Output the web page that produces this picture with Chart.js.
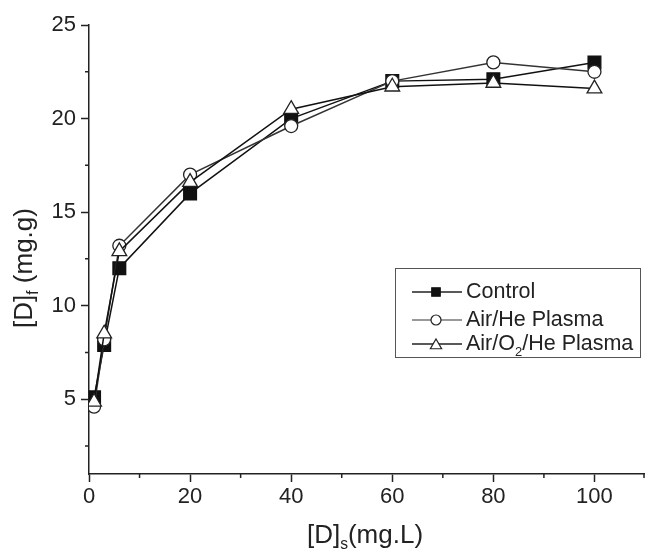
<!DOCTYPE html>
<html>
<head>
<meta charset="utf-8">
<script src="https://cdn.jsdelivr.net/npm/chart.js@4.4.1/dist/chart.umd.min.js"></script>
<style>
  html, body { margin: 0; padding: 0; background: #fff; }
  #wrap { width: 645px; height: 554px; }
</style>
</head>
<body>
<div id="wrap"><canvas id="chart" width="645" height="554"></canvas></div>
<script>
// concentrations in solution, [D]s (mg.L)
const dsValues = [1, 3, 6, 20, 40, 60, 80, 100];
// dye on fabric, [D]f (mg.g)
const control = [5.1, 7.9, 12.0, 16.0, 20.0, 22.0, 22.1, 23.0];
const airHe = [4.6, 8.2, 13.2, 17.0, 19.6, 22.0, 23.0, 22.5];
const airO2He = [4.85, 8.5, 12.9, 16.6, 20.5, 21.7, 21.9, 21.6];

const xTicks = [0, 20, 40, 60, 80, 100];
const yTicks = [5, 10, 15, 20, 25];
const xMinor = [10, 30, 50, 70, 90, 110];
const yMinor = [2.5, 7.5, 12.5, 17.5, 22.5];

const FONT = 'Liberation Sans, Arial, sans-serif';
const INK = '#222';

function pts(ys) {
  return dsValues.map((x, i) => ({ x: x, y: ys[i] }));
}

// minor ticks, axis titles with subscripts, boxed legend
const decor = {
  id: 'decor',
  afterDraw(chart) {
    const ctx = chart.ctx;
    const xs = chart.scales.x, ys = chart.scales.y;
    const area = chart.chartArea;
    ctx.save();
    ctx.strokeStyle = INK;
    ctx.lineWidth = 1.5;
    ctx.beginPath();
    xMinor.forEach(v => {
      const px = Math.min(xs.getPixelForValue(v), area.right - 1);
      ctx.moveTo(px, area.bottom);
      ctx.lineTo(px, area.bottom + 4);
    });
    yMinor.forEach(v => {
      const py = ys.getPixelForValue(v);
      ctx.moveTo(area.left, py);
      ctx.lineTo(area.left - 4, py);
    });
    ctx.stroke();

    // text with a subscript part, centred on x
    function subText(parts, x, y, size) {
      let w = 0;
      parts.forEach(p => {
        ctx.font = (p.sub ? size * 0.6 : size) + 'px ' + FONT;
        w += ctx.measureText(p.t).width;
      });
      let cx = x - w / 2;
      parts.forEach(p => {
        ctx.font = (p.sub ? size * 0.6 : size) + 'px ' + FONT;
        ctx.fillText(p.t, cx, p.sub ? y + size * 0.32 : y);
        cx += ctx.measureText(p.t).width;
      });
    }
    ctx.fillStyle = INK;
    ctx.textBaseline = 'middle';
    ctx.textAlign = 'left';
    subText([{ t: '[D]' }, { t: 's', sub: true }, { t: '(mg.L)' }], 365, 536, 26);
    ctx.save();
    ctx.translate(25, 268);
    ctx.rotate(-Math.PI / 2);
    subText([{ t: '[D]' }, { t: 'f', sub: true }, { t: ' (mg.g)' }], 0, 0, 26);
    ctx.restore();

    // legend box
    ctx.lineWidth = 1;
    ctx.strokeStyle = '#555';
    ctx.strokeRect(395.5, 268.5, 245, 89);
    const rows = [292, 320, 344];
    chart.data.datasets.forEach((ds, i) => {
      const y = rows[i];
      ctx.strokeStyle = i === 1 ? '#777' : '#222';
      ctx.lineWidth = 1.5;
      ctx.beginPath();
      ctx.moveTo(412, y);
      ctx.lineTo(462, y);
      ctx.stroke();
      ctx.fillStyle = ds.pointBackgroundColor;
      ctx.strokeStyle = ds.pointBorderColor;
      ctx.lineWidth = 1.2;
      Chart.helpers.drawPoint(ctx, {
        pointStyle: ds.pointStyle,
        radius: ds.pointStyle === 'rect' ? 6 : ds.pointStyle === 'circle' ? 5 : 6.5,
        borderWidth: 1.2
      }, 436, y + (ds.pointStyle === 'triangle' ? 1.5 : 0));
      ctx.fillStyle = INK;
      ctx.textBaseline = 'middle';
      ctx.font = '21.5px ' + FONT;
      if (i === 2) {
        let cx = 466;
        ctx.fillText('Air/O', cx, y);
        cx += ctx.measureText('Air/O').width;
        ctx.font = '13px ' + FONT;
        ctx.fillText('2', cx, y + 8);
        cx += ctx.measureText('2').width;
        ctx.font = '21.5px ' + FONT;
        ctx.fillText('/He Plasma', cx, y);
      } else {
        ctx.fillText(ds.label, 466, y);
      }
    });
    ctx.restore();
  }
};

const common = {
  showLine: true,
  borderWidth: 1.5,
  pointBorderWidth: 1.3,
  pointHoverRadius: 0
};

new Chart(document.getElementById('chart').getContext('2d'), {
  type: 'scatter',
  data: {
    datasets: [
      Object.assign({}, common, {
        label: 'Control',
        data: pts(control),
        borderColor: '#111',
        pointStyle: 'rect',
        pointRadius: 9,
        pointBackgroundColor: '#111',
        pointBorderColor: '#111',
        order: 3
      }),
      Object.assign({}, common, {
        label: 'Air/He Plasma',
        data: pts(airHe),
        borderColor: '#333',
        pointStyle: 'circle',
        pointRadius: 6.5,
        pointBackgroundColor: '#fff',
        pointBorderColor: '#222',
        order: 2
      }),
      Object.assign({}, common, {
        label: 'Air/O2/He Plasma',
        data: pts(airO2He),
        borderColor: '#111',
        pointStyle: 'triangle',
        pointRadius: 8.5,
        pointBackgroundColor: '#fff',
        pointBorderColor: '#222',
        order: 1
      })
    ]
  },
  options: {
    responsive: false,
    animation: false,
    layout: { autoPadding: false, padding: { top: 25, right: 0, bottom: 0, left: 0 } },
    plugins: {
      legend: { display: false },
      tooltip: { enabled: false }
    },
    scales: {
      x: {
        type: 'linear',
        min: 0,
        max: 110,
        afterBuildTicks: s => { s.ticks = xTicks.map(v => ({ value: v })); },
        afterFit: s => { s.height = 80; s.paddingLeft = 0; s.paddingRight = 0; },
        grid: { drawOnChartArea: false, tickLength: 8, tickWidth: 1.5, tickColor: INK },
        border: { color: INK, width: 1.5 },
        ticks: { color: INK, font: { family: FONT, size: 22 }, padding: 2, maxRotation: 0 }
      },
      y: {
        min: 1,
        max: 25,
        afterBuildTicks: s => { s.ticks = yTicks.map(v => ({ value: v })); },
        afterFit: s => { s.width = 89; s.paddingTop = 0; s.paddingBottom = 0; },
        grid: { drawOnChartArea: false, tickLength: 8, tickWidth: 1.5, tickColor: INK },
        border: { color: INK, width: 1.5 },
        ticks: { color: INK, font: { family: FONT, size: 22 }, padding: 5 }
      }
    }
  },
  plugins: [decor]
});
</script>
</body>
</html>
